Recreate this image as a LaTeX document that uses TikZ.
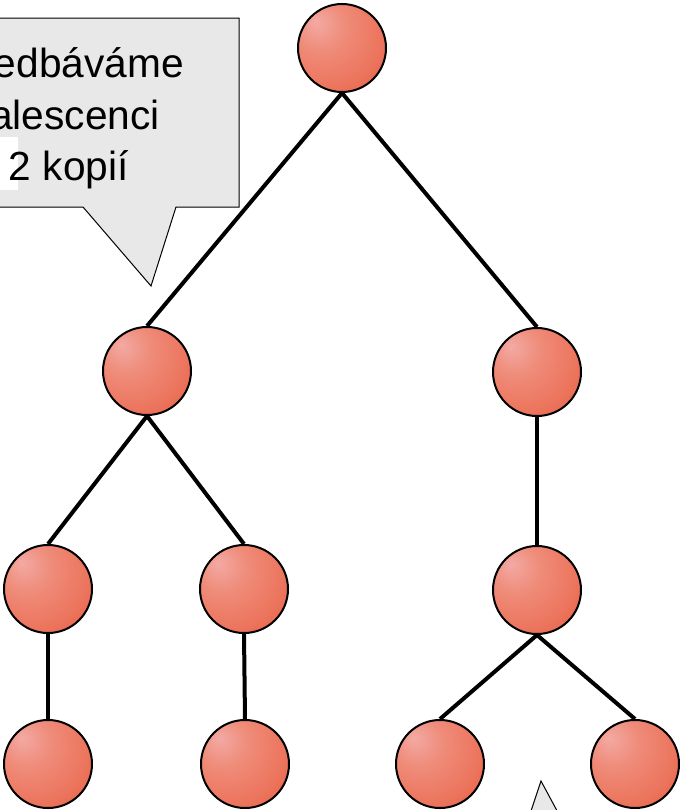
\documentclass[tikz,border=0pt]{standalone}
\usepackage{fontspec}
\setmainfont{Liberation Sans}
\definecolor{hl}{RGB}{243,170,164}
\definecolor{mA}{RGB}{239,140,122}
\definecolor{mB}{RGB}{236,116,92}
\definecolor{mC}{RGB}{228,80,60}
\definecolor{dk}{RGB}{205,30,25}
\definecolor{calloutgray}{RGB}{232,232,232}
\pgfdeclareradialshading{redball}{\pgfpoint{-15bp}{15bp}}{color(0bp)=(hl); color(14bp)=(mA); color(32bp)=(mB); color(50bp)=(mC); color(64bp)=(dk); color(80bp)=(dk)}
\begin{document}
\begin{tikzpicture}[x=0.75pt,y=-0.75pt,
  ball/.style={circle, draw=black, line width=1.5pt, shading=redball, minimum size=66pt, inner sep=0pt},
  edge/.style={line width=3pt, black},
  callout/.style={fill=calloutgray, draw=black, line width=0.75pt, line join=miter},
  ctext/.style={anchor=base east, inner sep=0pt, font=\fontsize{30.5}{37}\selectfont}]
\useasboundingbox (0,0) rectangle (681,810);
\clip (0,0) rectangle (681,810);
\fill[white] (0,0) rectangle (681,810);

% callout top-left
\draw[callout] (-10,18) -- (239,18) -- (239,207) -- (176,207) -- (151,286) -- (83,207) -- (-10,207) -- cycle;
\fill[white] (0,137) rectangle (18,190);
\node[ctext] (t1) at (184,77) {edbáváme};
\node[ctext] (t2) at (160,129) {alescenci};
\node[ctext] (t3) at (129,180) {2 kopií};

% bottom pointer
\draw[callout] (528,820) -- (541,781) -- (562,820);

% nodes
\node[ball] (r) at (342,48) {};
\node[ball] (a) at (147,371) {};
\node[ball] (b) at (537,372) {};
\node[ball] (c) at (48,589) {};
\node[ball] (d) at (244,589) {};
\node[ball] (e) at (537,590) {};
\node[ball] (f) at (48,764) {};
\node[ball] (g) at (245,764) {};
\node[ball] (h) at (440,764) {};
\node[ball] (i) at (635,764) {};

% edges
\draw[edge] (r.south) -- (a.north);
\draw[edge] (r.south) -- (b.north);
\draw[edge] (a.south) -- (c.north);
\draw[edge] (a.south) -- (d.north);
\draw[edge] (b.south) -- (e.north);
\draw[edge] (c.south) -- (f.north);
\draw[edge] (d.south) -- (g.north);
\draw[edge] (e.south) -- (h.north);
\draw[edge] (e.south) -- (i.north);
\end{tikzpicture}
\end{document}
